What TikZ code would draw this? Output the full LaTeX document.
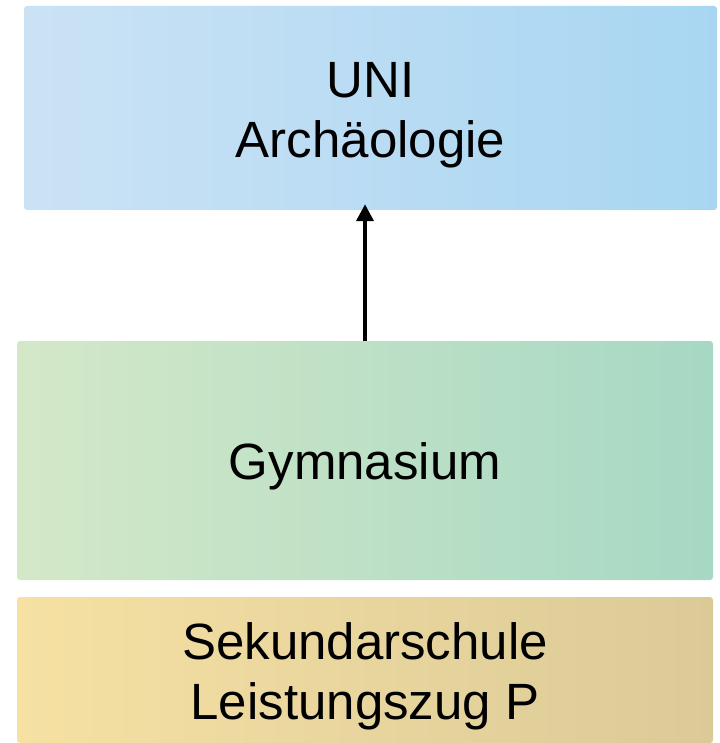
\documentclass[tikz,border=0pt]{standalone}
\usepackage{fontspec}
\setmainfont{Liberation Sans}
\usetikzlibrary{positioning}
\usetikzlibrary{arrows.meta}

\newcommand{\oben}{\rule{0pt}{49pt}}

\tikzset{
  stufe/.style={rounded corners=3pt, inner sep=0pt, align=center,
    font=\fontsize{51}{60}\selectfont}
}

\begin{document}
\begin{tikzpicture}[x=1pt,y=-1pt]
		 % Define the page area
		\useasboundingbox (0,0) rectangle (719,743);

		% Draw the levels
		\node[stufe, left color={rgb,255:red,203;green,226;blue,245}, right color={rgb,255:red,168;green,214;blue,242},
		  minimum width=693pt, minimum height=204pt] (uni) at (370.5,108) {\oben UNI\\Archäologie};
		\node[stufe, left color={rgb,255:red,212;green,232;blue,200}, right color={rgb,255:red,166;green,216;blue,196},
		  minimum width=696pt, minimum height=239pt] (gym) at (365,460.5) {\oben Gymnasium};
		\node[stufe, left color={rgb,255:red,246;green,225;blue,163}, right color={rgb,255:red,219;green,202;blue,152},
		  minimum width=696pt, minimum height=146pt] (sek) at (365,670) {\oben Sekundarschule\\Leistungszug P};

		% Draw the arrow
		\draw[line width=4pt, -{Triangle[length=17pt,width=17pt]}, shorten >=-6pt] (gym.north) -- (gym.north |- uni.south);
\end{tikzpicture}
\end{document}
